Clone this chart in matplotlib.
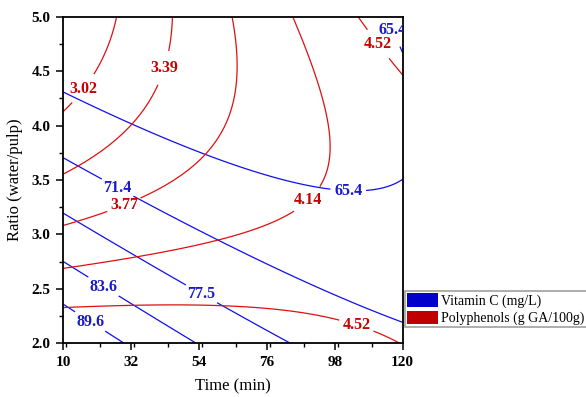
import numpy as np
import matplotlib
matplotlib.use('Agg')
import matplotlib.pyplot as plt
from matplotlib.patches import Patch
from matplotlib.ticker import MultipleLocator, FixedLocator

plt.rcParams['font.family'] = ['Liberation Serif', 'DejaVu Serif']

# Quadratic response surfaces, coded units: x = (time-65)/55, y = (ratio-3.5)/1.5
# terms: 1, x, y, x^2, y^2, x*y
vitc_coef = [66.361, -4.157, -10.476, 3.209, 4.151, 7.223]
poly_coef = [3.928, 0.4323, -0.4987, -0.0652, 0.3462, 0.6252]

vitc_levels = [65.4, 71.4, 77.5, 83.6, 89.6]
poly_levels = [3.02, 3.39, 3.77, 4.14, 4.52]

time_ticks = [10, 32, 54, 76, 98, 120]
ratio_ticks = [2.0, 2.5, 3.0, 3.5, 4.0, 4.5, 5.0]

legend_labels = ['Vitamin C (mg/L)', 'Polyphenols (g GA/100g)']

# where the contour labels sit
vitc_label_pos = [(102.4, 3.41), (118.6, 4.9), (27.8, 3.44), (54.9, 2.46), (23, 2.52), (18.7, 2.2)]
poly_label_pos = [(16.5, 4.34), (42.4, 4.53), (29.4, 3.29), (88.9, 3.33), (105.1, 2.17), (111.7, 4.74)]

line_blue = '#1010EE'; text_blue = '#1A1ACC'
line_red = '#DD1010'; text_red = '#C80000'


def surface(coef, t, r):
    x = (t - 65) / 55
    y = (r - 3.5) / 1.5
    c = coef
    return c[0] + c[1]*x + c[2]*y + c[3]*x*x + c[4]*y*y + c[5]*x*y


T, R = np.meshgrid(np.linspace(10, 120, 300), np.linspace(2, 5, 300))
Zv = surface(vitc_coef, T, R)
Zp = surface(poly_coef, T, R)

fig = plt.figure(figsize=(5.86, 3.97), dpi=100)
ax = fig.add_axes([0.108, 0.1353, 0.579, 0.8227])

cv = ax.contour(T, R, Zv, levels=vitc_levels, colors=line_blue, linewidths=0.9)
cp = ax.contour(T, R, Zp, levels=poly_levels, colors=line_red, linewidths=0.9)

lv = ax.clabel(cv, fmt='%.1f', manual=vitc_label_pos, inline=True, inline_spacing=4, fontsize=11.5)
lp = ax.clabel(cp, fmt='%.2f', manual=poly_label_pos, inline=True, inline_spacing=4, fontsize=11.5)
for txt in lv:
    txt.set_rotation(0); txt.set_color(text_blue); txt.set_fontweight('bold'); txt.set_clip_on(True)
for txt in lp:
    txt.set_rotation(0); txt.set_color(text_red); txt.set_fontweight('bold'); txt.set_clip_on(True)

ax.set_xlim(10, 120); ax.set_ylim(2, 5)
ax.xaxis.set_major_locator(FixedLocator(time_ticks))
ax.xaxis.set_minor_locator(MultipleLocator(11))
ax.yaxis.set_major_locator(FixedLocator(ratio_ticks))
ax.yaxis.set_minor_locator(MultipleLocator(0.25))
ax.set_xticklabels([str(v) for v in time_ticks])
ax.set_yticklabels([f'{v:.1f}' for v in ratio_ticks])
ax.tick_params(which='major', direction='out', length=5, width=1.1, labelsize=11, pad=4)
ax.tick_params(which='minor', direction='out', length=3, width=1.0)
for lab in ax.get_xticklabels() + ax.get_yticklabels():
    lab.set_fontweight('bold')
for sp in ax.spines.values():
    sp.set_linewidth(1.3)

ax.set_xlabel('Time (min)', fontsize=12, labelpad=7)
ax.set_ylabel('Ratio (water/pulp)', fontsize=12, labelpad=6)

handles = [Patch(facecolor='#0000CC', edgecolor='none'),
           Patch(facecolor='#C00000', edgecolor='none')]
leg = ax.legend(handles, legend_labels, loc='center left', bbox_to_anchor=(1.008, 0.104),
                fontsize=10, frameon=True, fancybox=False, edgecolor='#888888',
                borderpad=0.15, labelspacing=0.2, handlelength=2.2, handleheight=1.1,
                handletextpad=0.25, borderaxespad=0)
leg.get_frame().set_linewidth(1.2)

fig.savefig('out.png', dpi=100)
